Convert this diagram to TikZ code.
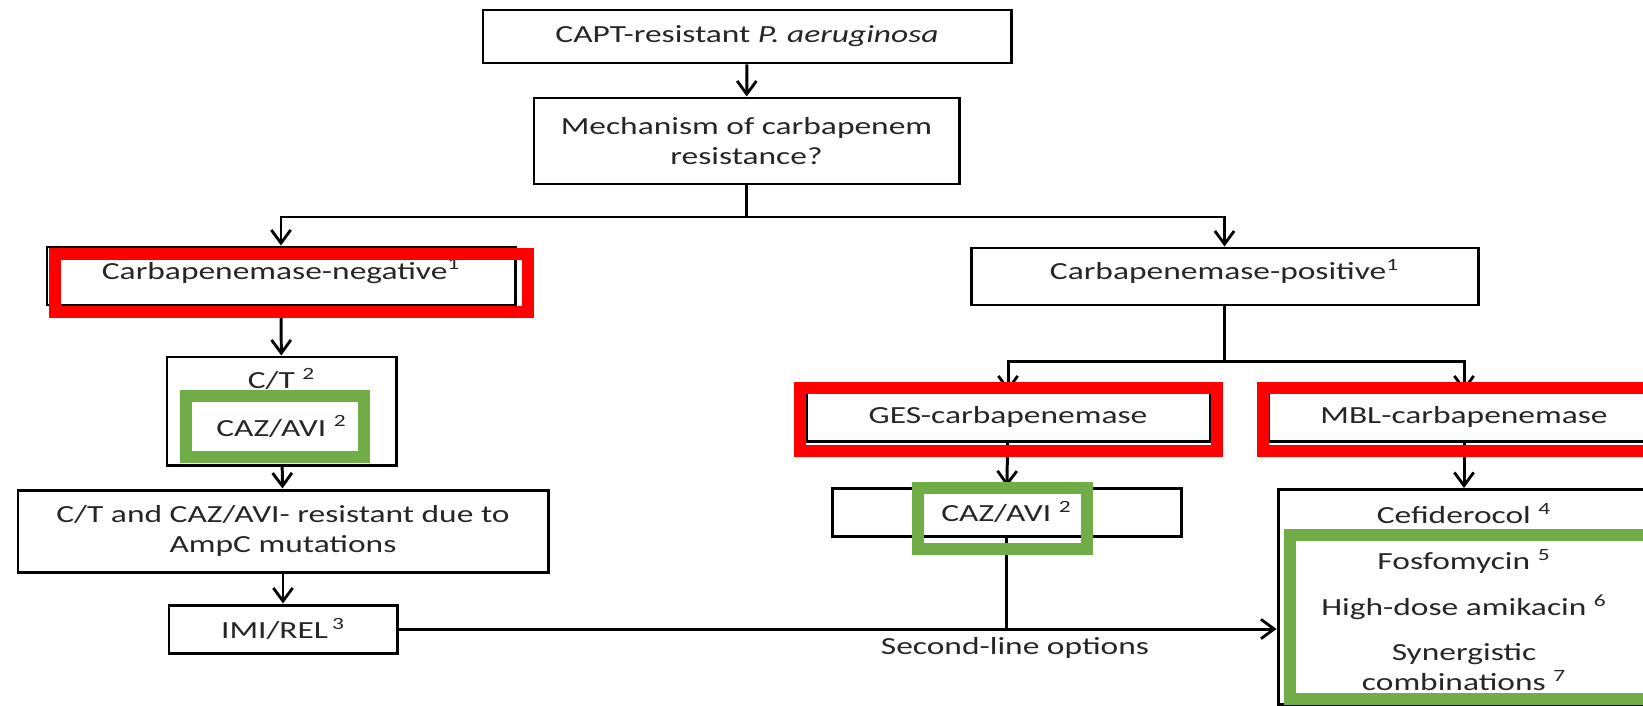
\documentclass[tikz,border=0pt]{standalone}
\usepackage{fontspec}
\setmainfont{Carlito}[FakeStretch=1.36]
\usetikzlibrary{arrows.meta}

\definecolor{hlred}{RGB}{255,0,0}
\definecolor{hlgreen}{RGB}{112,173,71}

\tikzset{
	box/.style={draw, line width=1.7pt, align=center, inner sep=0pt, text=black!85, font=\fontsize{14}{17}\selectfont},
	lbl/.style={align=center, inner sep=0pt, text=black!85, font=\fontsize{14}{17}\selectfont},
	conn/.style={line width=1.7pt, -{Straight Barb[length=7.5pt,width=11pt,line width=1.6pt]}},
	redframe/.style={draw=hlred, line width=6.8pt},
	greenframe/.style={draw=hlgreen, line width=6.8pt}
}

\begin{document}
\begin{tikzpicture}[x=0.2mm, y=-0.2mm]

	\clip (0,0) rectangle (1643,705);
	\fill[white] (0,0) rectangle (1643,705);

	% top of the tree
	\node[box, minimum width=10.56cm, minimum height=1.06cm] (capt) at (747,36.5) {CAPT-resistant \textit{P. aeruginosa}};
	\node[box, minimum width=8.5cm, minimum height=1.72cm] (mech) at (746.5,141) {Mechanism of carbapenem\\resistance?};

	\node[box, minimum width=9.36cm, minimum height=1.16cm, text depth=8pt] (neg) at (281,276) {Carbapenemase-negative\textsuperscript{1}};
	\node[box, minimum width=10.14cm, minimum height=1.14cm, text depth=8pt] (pos) at (1224.5,276.5) {Carbapenemase-positive\textsuperscript{1}};

	% left branch
	\node[box, minimum width=4.58cm, minimum height=2.16cm, text depth=10pt] (ct) at (281.5,411) {C/T \textsuperscript{2}\\[10pt]CAZ/AVI \textsuperscript{2}};
	\node[box, minimum width=10.6cm, minimum height=1.64cm] (res) at (283,531) {C/T and CAZ/AVI- resistant due to\\AmpC mutations};
	\node[box, minimum width=4.56cm, minimum height=0.96cm] (imi) at (283,629) {IMI/REL\,\textsuperscript{3}};

	% right branch
	\node[box, minimum width=8.08cm, minimum height=0.96cm] (ges) at (1008,417) {GES-carbapenemase};
	\node[box, minimum width=7.84cm, minimum height=0.96cm] (mbl) at (1464,417) {MBL-carbapenemase};
	\node[box, minimum width=6.98cm, minimum height=0.96cm] (caz) at (1006.5,512) {CAZ/AVI \textsuperscript{2}};
	\node[box, anchor=north, minimum width=7.44cm, inner ysep=8pt] (opts) at (1464,488)
		{Cefiderocol \textsuperscript{4}\\[9pt]Fosfomycin \textsuperscript{5}\\[9pt]High-dose amikacin \textsuperscript{6}\\[9pt]Synergistic\\combinations \textsuperscript{7}};

	% connectors
	\draw[conn] (capt) -- (mech);
	\draw[line width=1.7pt] (mech.south) -- (746.5,217) coordinate (split);
	\draw[conn] (split) -| (neg.north);
	\draw[conn] (split) -| (pos.north);
	\draw[conn] (neg) -- (ct);
	\draw[conn] (ct) -- (res);
	\draw[conn] (res) -- (imi);

	\draw[line width=1.7pt] (pos.south) -- (1224.5,361) coordinate (fork);
	\draw[conn] (fork) -| (ges.north);
	\draw[conn] (fork) -| (mbl.north);
	\draw[conn] (ges) -- (caz);
	\draw[conn] (mbl.south) -- (opts.north);

	\draw[conn] (imi.east) -- (imi.east -| opts.west);
	\draw[line width=1.7pt] (caz.south) -- (caz.south |- imi.east) coordinate (join);
	\node[lbl] (second) at (1015,648) {Second-line options};

	% highlights
	\draw[redframe] (55,254) rectangle (528,312);
	\draw[greenframe] (186,396) rectangle (364,457);
	\draw[redframe] (800,388) rectangle (1217,451);
	\draw[redframe] (1263,388) rectangle (1660,451);
	\draw[greenframe] (918,488) rectangle (1087,549);
	\draw[greenframe] (1290,535) rectangle (1660,699);

\end{tikzpicture}
\end{document}
